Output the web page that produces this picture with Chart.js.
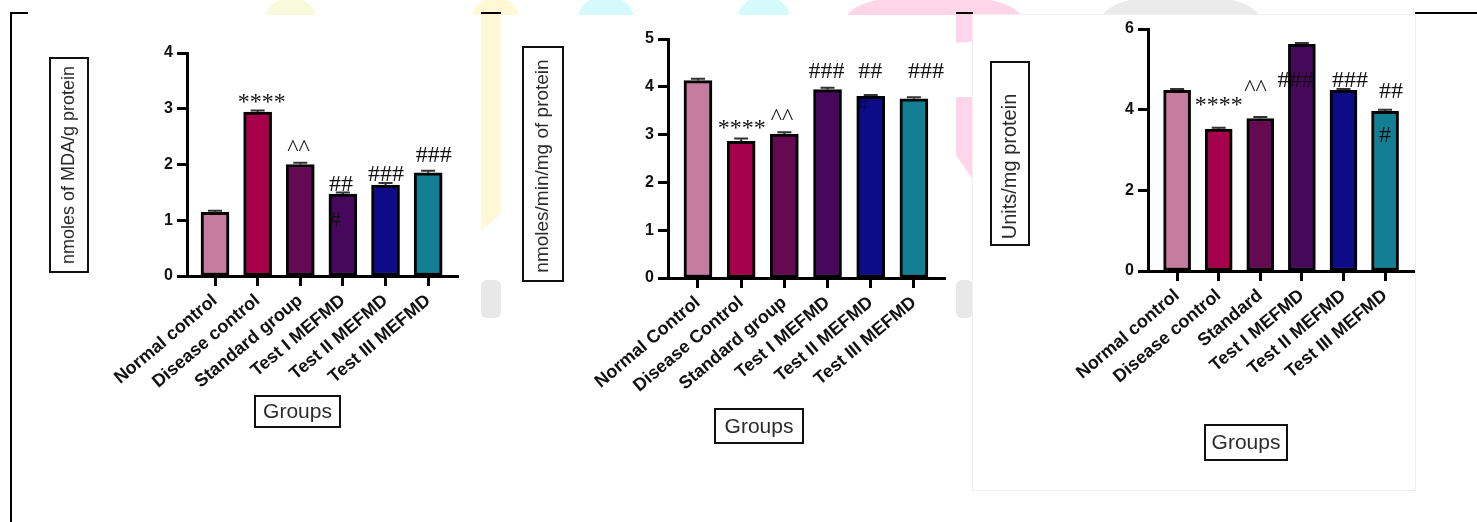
<!DOCTYPE html>
<html>
<head>
<meta charset="utf-8">
<script src="https://cdn.jsdelivr.net/npm/chart.js@4.4.1/dist/chart.umd.min.js"></script>
<style>
html, body { margin: 0; padding: 0; background: #fff; }
body { width: 1477px; height: 522px; position: relative; overflow: hidden; }
.wm { position: absolute; }
.line { position: absolute; background: #000; }
canvas.panel { position: absolute; background: #fff; }
</style>
</head>
<body>
<!-- watermark blobs behind the three screenshots -->
<div class="wm" style="left:266px;top:-2px;width:50px;height:40px;border-radius:50%;background:#f8fadc"></div>
<div class="wm" style="left:472px;top:-2px;width:47px;height:40px;border-radius:50%;background:#fff8d5"></div>
<div class="wm" style="left:578px;top:-4px;width:56px;height:44px;border-radius:50%;background:#d6fafc"></div>
<div class="wm" style="left:738px;top:-4px;width:52px;height:44px;border-radius:50%;background:#d6fafc"></div>
<div class="wm" style="left:846px;top:-6px;width:176px;height:50px;border-radius:50%;background:#ffd6e9"></div>
<div class="wm" style="left:1102px;top:-6px;width:158px;height:50px;border-radius:50%;background:#ebebeb"></div>
<div class="wm" style="left:481px;top:13px;width:20px;height:218px;background:#fff8d6;clip-path:polygon(0 0,100% 0,100% 92%,0 100%)"></div>
<div class="wm" style="left:481px;top:280px;width:20px;height:38px;border-radius:6px;background:#e8e8e8"></div>
<div class="wm" style="left:956px;top:13px;width:17px;height:25px;background:#ffd6e9"></div>
<div class="wm" style="left:956px;top:97px;width:17px;height:83px;background:#ffd6e9;clip-path:polygon(0 0,100% 0,100% 100%,0 70%)"></div>
<div class="wm" style="left:956px;top:280px;width:17px;height:38px;border-radius:6px;background:#e8e8e8"></div>

<!-- page frame, only seen between the screenshots -->
<div class="line" style="left:10px;top:12px;width:18px;height:2px"></div>
<div class="line" style="left:481px;top:12px;width:20px;height:2px"></div>
<div class="line" style="left:956px;top:12px;width:17px;height:2px"></div>
<div class="line" style="left:1415px;top:12px;width:62px;height:2px"></div>
<div class="line" style="left:10px;top:12px;width:2px;height:510px"></div>

<canvas id="chartA" class="panel" width="468" height="507" style="left:13px;top:15px"></canvas>
<canvas id="chartB" class="panel" width="455" height="507" style="left:501px;top:15px"></canvas>
<canvas id="chartC" class="panel" width="442" height="475" style="left:973px;top:15px;outline:1px solid #f0f0f0"></canvas>

<script>
// --- data ---
var groupsA = ["Normal control", "Disease control", "Standard group", "Test I MEFMD", "Test II MEFMD", "Test III MEFMD"];
var groupsB = ["Normal Control", "Disease Control", "Standard group", "Test I MEFMD", "Test II MEFMD", "Test III MEFMD"];
var groupsC = ["Normal control", "Disease control", "Standard", "Test I MEFMD", "Test II MEFMD", "Test III MEFMD"];

var valuesA = [1.14, 2.94, 2.00, 1.47, 1.63, 1.85];
var semA = [0.03, 0.03, 0.03, 0.03, 0.04, 0.04];
var valuesB = [4.13, 2.86, 3.01, 3.94, 3.80, 3.75];
var semB = [0.04, 0.06, 0.04, 0.04, 0.03, 0.03];
var valuesC = [4.48, 3.52, 3.78, 5.62, 4.48, 3.96];
var semC = [0.03, 0.03, 0.04, 0.03, 0.03, 0.04];

var yTitleA = "nmoles of MDA/g protein";
var yTitleB = "nmoles/min/mg of protein";
var yTitleC = "Units/mg protein";
var xTitle = "Groups";

// significance marks: [bar index, text]
var marksA = [[1, "****"], [2, "^^"], [3, "##"], [3, "#"], [4, "###"], [5, "###"]];
var marksB = [[1, "****"], [2, "^^"], [3, "###"], [4, "##"], [5, "###"], [4, "#"]];
var marksC = [[1, "****"], [2, "^^"], [3, "###"], [4, "###"], [5, "##"], [5, "#"]];

var barColors = ["#c57c9e", "#a8014b", "#650a52", "#47085c", "#0d0b88", "#127f94"];

function makePanel(id, o) {
    var decor = {
        id: 'decor',
        afterDatasetsDraw: function(chart) {
            var c = chart.ctx, xs = chart.scales.x, ys = chart.scales.y;
            c.save();
            // little SEM caps on top of the bars
            c.strokeStyle = '#333';
            c.lineWidth = 2;
            o.values.forEach(function(v, i) {
                var x = xs.getPixelForValue(i);
                var y0 = ys.getPixelForValue(v), y1 = ys.getPixelForValue(v + o.sem[i]);
                c.beginPath();
                c.moveTo(x, y0); c.lineTo(x, y1);
                c.moveTo(x - 7, y1); c.lineTo(x + 7, y1);
                c.stroke();
            });
            // significance marks, centred on their ink box
            c.font = '24px "Liberation Serif"';
            c.textAlign = 'left';
            c.textBaseline = 'alphabetic';
            o.marks.forEach(function(m, k) {
                var i = m[0], off = o.markPos[k];
                var cx = xs.getPixelForValue(i) + off[0];
                var cy = ys.getPixelForValue(o.values[i]) + off[1];
                var mt = c.measureText(m[1]);
                c.fillStyle = off[2] || '#111';
                c.fillText(m[1], cx - (mt.actualBoundingBoxRight - mt.actualBoundingBoxLeft) / 2,
                           cy + (mt.actualBoundingBoxAscent - mt.actualBoundingBoxDescent) / 2);
            });
            c.restore();
        },
        afterDraw: function(chart) {
            var c = chart.ctx;
            c.save();
            c.strokeStyle = '#111';
            c.lineWidth = 2;
            c.fillStyle = '#2b2b2b';
            c.textAlign = 'center';
            c.textBaseline = 'middle';
            // boxed y title
            var b = o.yBox;
            c.strokeRect(b[0], b[1], b[2] - b[0], b[3] - b[1]);
            c.translate(o.yText[0], o.yText[1]);
            c.rotate(-Math.PI / 2);
            c.font = o.yFont + 'px "Liberation Sans"';
            c.fillText(o.yTitle, 0, 0);
            c.setTransform(1, 0, 0, 1, 0, 0);
            // boxed x title
            b = o.gBox;
            c.strokeRect(b[0], b[1], b[2] - b[0], b[3] - b[1]);
            c.font = '21px "Liberation Sans"';
            c.fillText(xTitle, (b[0] + b[2]) / 2, (b[1] + b[3]) / 2 + 1);
            c.restore();
        }
    };

    return new Chart(document.getElementById(id), {
        type: 'bar',
        data: {
            datasets: [{
                data: o.values.map(function(v, i) { return {x: i, y: v}; }),
                backgroundColor: barColors,
                borderColor: '#000',
                borderWidth: 3,
                borderSkipped: false,
                barThickness: o.barWidth
            }]
        },
        options: {
            responsive: false,
            animation: false,
            devicePixelRatio: 1,
            layout: { padding: { left: 0, right: o.padRight, top: o.padTop, bottom: 0 } },
            plugins: { legend: { display: false }, tooltip: { enabled: false } },
            scales: {
                x: {
                    type: 'linear',
                    min: o.xMin,
                    max: o.xMax,
                    offset: false,
                    grid: { offset: false, drawOnChartArea: false, tickLength: 10, tickWidth: 3, tickColor: '#000' },
                    border: { color: '#000', width: 3 },
                    ticks: {
                        stepSize: 1,
                        includeBounds: false,
                        autoSkip: false,
                        minRotation: 40,
                        maxRotation: 40,
                        padding: 4,
                        color: '#111',
                        font: { family: 'Liberation Sans', size: 18, weight: 'bold' },
                        callback: function(v) { return o.labels[v]; }
                    },
                    afterBuildTicks: function(s) {
                        s.ticks = s.ticks.filter(function(t) { return Number.isInteger(t.value); });
                    },
                    afterFit: function(s) { s.height = o.xHeight; }
                },
                y: {
                    min: 0,
                    max: o.yMax,
                    grid: { drawOnChartArea: false, tickLength: 10, tickWidth: 3, tickColor: '#000' },
                    border: { color: '#000', width: 3 },
                    ticks: {
                        stepSize: o.yStep,
                        padding: 4,
                        color: '#111',
                        font: { family: 'Liberation Sans', size: 16, weight: 'bold' }
                    },
                    afterFit: function(s) { s.width = o.yWidth; }
                }
            }
        },
        plugins: [decor]
    });
}

makePanel('chartA', {
    labels: groupsA, values: valuesA, sem: semA, marks: marksA, yTitle: yTitleA, yFont: 18,
    yMax: 4, yStep: 1, xMin: -0.657, xMax: 5.70, barWidth: 28,
    yWidth: 174, padRight: 23, padTop: 38, xHeight: 246,
    markPos: [[4, -14], [-2, -19], [-2, -10.5], [-8, 25.5], [0.5, -12], [5.5, -18]],
    yBox: [37, 43, 75, 257], yText: [56, 150],
    gBox: [242, 381, 327, 412]
});

makePanel('chartB', {
    labels: groupsB, values: valuesB, sem: semB, marks: marksB, yTitle: yTitleB, yFont: 19,
    yMax: 5, yStep: 1, xMin: -0.694, xMax: 5.72, barWidth: 28,
    yWidth: 167, padRight: 11, padTop: 24, xHeight: 244,
    markPos: [[0.5, -16.7], [-2.5, -19.3], [-1, -19], [-0.5, -25.7], [12, -28], [-8, 8, 'rgba(0,0,40,0.45)']],
    yBox: [22, 32, 62, 266], yText: [42, 151],
    gBox: [214, 394, 302, 428]
});

makePanel('chartC', {
    labels: groupsC, values: valuesC, sem: semC, marks: marksC, yTitle: yTitleC, yFont: 20,
    yMax: 6, yStep: 2, xMin: -0.70, xMax: 5.72, barWidth: 27,
    yWidth: 175, padRight: 0, padTop: 14, xHeight: 219,
    markPos: [[0, -27.3], [-5, -33], [-6.5, 35], [6.5, -11], [6, -21], [0, 23]],
    yBox: [18, 47, 56, 230], yText: [37, 151.5],
    gBox: [232, 410, 314, 445]
});
</script>
</body>
</html>
